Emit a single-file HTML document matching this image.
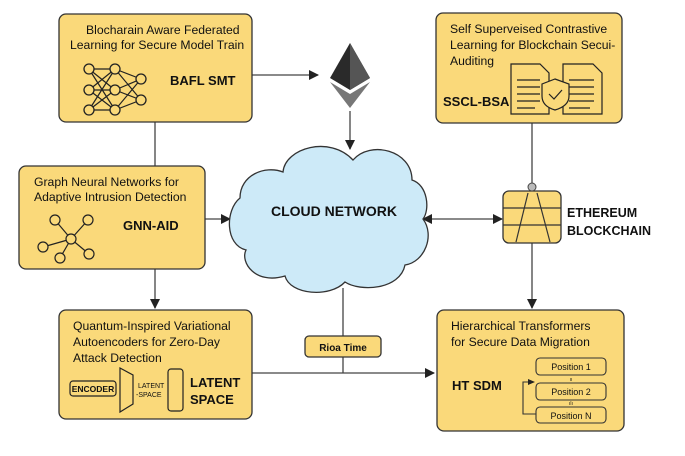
<!DOCTYPE html>
<html><head><meta charset="utf-8"><style>
body{margin:0;background:#fff}
svg{display:block}
text{font-family:"Liberation Sans",sans-serif;fill:#111}
.t{font-size:12.2px}
.b{font-weight:bold}
</style></head><body>
<svg width="685" height="456" viewBox="0 0 685 456" xmlns="http://www.w3.org/2000/svg">
<defs><marker id="a" markerWidth="10" markerHeight="10" refX="9" refY="5" orient="auto-start-reverse" markerUnits="userSpaceOnUse"><path d="M0,0 L10,5 L0,10 z" fill="#222"/></marker></defs>
<g stroke="#444" stroke-width="1.3" fill="none">
<line x1="155" y1="122" x2="155" y2="166"/>
<line x1="155" y1="269" x2="155" y2="308" marker-end="url(#a)"/>
<line x1="205" y1="219" x2="230" y2="219" marker-end="url(#a)"/>
<line x1="252" y1="75" x2="318" y2="75" marker-end="url(#a)"/>
<line x1="350" y1="111" x2="350" y2="149" marker-end="url(#a)"/>
<line x1="532" y1="123" x2="532" y2="188"/>
<line x1="532" y1="243" x2="532" y2="308" marker-end="url(#a)"/>
<line x1="423" y1="219" x2="502" y2="219" marker-start="url(#a)" marker-end="url(#a)"/>
<line x1="343" y1="288" x2="343" y2="373"/>
<line x1="252" y1="373" x2="434" y2="373" marker-end="url(#a)"/>
</g>
<g fill="#fad97a" stroke="#333" stroke-width="1.3">
<rect x="59" y="14" width="193" height="108" rx="7"/>
<rect x="19" y="166" width="186" height="103" rx="7"/>
<rect x="59" y="310" width="193" height="109" rx="7"/>
<rect x="436" y="13" width="186" height="110" rx="7"/>
<rect x="437" y="310" width="187" height="121" rx="7"/>
<rect x="305" y="336" width="76" height="21" rx="4"/>
<rect x="503" y="191" width="58" height="52" rx="6"/>
</g>
<path d="M283,172 C285,148 330,135 353,160 C370,140 412,150 412,180 C428,185 430,210 423,219 C435,235 425,262 405,265 C400,290 360,292 345,282 C330,298 290,295 285,276 C255,285 240,262 246,250 C225,245 225,210 240,198 C240,175 265,165 283,172 Z" fill="#cdeaf8" stroke="#333" stroke-width="1.3"/>
<text x="334" y="216" class="b" font-size="14" text-anchor="middle">CLOUD NETWORK</text>
<polygon points="350,43 330,78 350,90 370,78" fill="#2a2a2a"/>
<polygon points="350,43 350,90 370,78" fill="#555"/>
<polygon points="330,82 350,94 370,82 350,108" fill="#777"/>
<circle cx="532" cy="187" r="4" fill="#bbb" stroke="#444"/>
<g stroke="#333" stroke-width="1.2"><line x1="503" y1="208" x2="561" y2="208"/><line x1="503" y1="225" x2="561" y2="225"/><line x1="528" y1="193" x2="516" y2="242"/><line x1="537" y1="193" x2="550" y2="242"/></g>
<text x="567" y="217" class="b" font-size="12.5">ETHEREUM</text>
<text x="567" y="235" class="b" font-size="12.5">BLOCKCHAIN</text>
<text x="86" y="34" class="t">Blocharain Aware Federated</text>
<text x="70" y="49" class="t">Learning for Secure Model Train</text>
<text x="170" y="85" class="b" font-size="13">BAFL SMT</text>
<g stroke="#222" stroke-width="1.2" fill="none">
<path d="M89,69 L115,69 M89,69 L115,90 M89,69 L115,110 M89,90 L115,69 M89,90 L115,90 M89,90 L115,110 M89,110 L115,69 M89,110 L115,90 M89,110 L115,110 M115,69 L141,79 M115,69 L141,100 M115,90 L141,79 M115,90 L141,100 M115,110 L141,79 M115,110 L141,100"/>
</g>
<g fill="#fad97a" stroke="#222" stroke-width="1.3">
<circle cx="89" cy="69" r="5"/><circle cx="89" cy="90" r="5"/><circle cx="89" cy="110" r="5"/>
<circle cx="115" cy="69" r="5"/><circle cx="115" cy="90" r="5"/><circle cx="115" cy="110" r="5"/>
<circle cx="141" cy="79" r="5"/><circle cx="141" cy="100" r="5"/>
</g>
<text x="34" y="186" class="t">Graph Neural Networks for</text>
<text x="34" y="201" class="t">Adaptive Intrusion Detection</text>
<text x="123" y="230" class="b" font-size="13">GNN-AID</text>
<g stroke="#222" stroke-width="1.2" fill="#fad97a">
<path d="M71,239 L55,220 M71,239 L88,220 M71,239 L43,247 M71,239 L60,258 M71,239 L89,254" fill="none"/>
<circle cx="71" cy="239" r="5"/><circle cx="55" cy="220" r="5"/><circle cx="88" cy="220" r="5"/><circle cx="43" cy="247" r="5"/><circle cx="60" cy="258" r="5"/><circle cx="89" cy="254" r="5"/>
</g>
<text x="73" y="330" class="t">Quantum-Inspired Variational</text>
<text x="73" y="346" class="t">Autoencoders for Zero-Day</text>
<text x="73" y="362" class="t">Attack Detection</text>
<g stroke="#222" stroke-width="1.2" fill="none">
<rect x="70" y="381" width="46" height="15" rx="3"/>
<polygon points="120,368 133,375 133,404 120,412"/>
<rect x="168" y="369" width="15" height="42" rx="3"/>
</g>
<text x="93" y="392" font-size="8.5" text-anchor="middle" class="b">ENCODER</text>
<text x="138" y="388" font-size="7">LATENT</text>
<text x="136" y="397" font-size="7">-SPACE</text>
<text x="190" y="387" class="b" font-size="13">LATENT</text>
<text x="190" y="404" class="b" font-size="13">SPACE</text>
<text x="450" y="33" class="t">Self Superveised Contrastive</text>
<text x="450" y="49" class="t">Learning for Blockchain Secui-</text>
<text x="450" y="65" class="t">Auditing</text>
<text x="443" y="106" class="b" font-size="13">SSCL-BSA</text>
<g stroke="#222" stroke-width="1.2" fill="#fad97a">
<path d="M511,64 L540,64 L549,73 L549,114 L511,114 Z"/>
<path d="M563,64 L593,64 L602,73 L602,114 L563,114 Z"/>
<path d="M517,80 H540 M517,87 H540 M517,94 H540 M517,101 H540 M517,108 H535 M569,80 H594 M569,87 H594 M569,94 H594 M569,101 H594 M569,108 H590" fill="none"/>
<path d="M555,79 L569,84 L569,96 C569,104 562,108 555,110 C548,108 542,104 542,96 L542,84 Z"/>
<path d="M549,94 L554,99 L562,90" fill="none"/>
</g>
<text x="451" y="330" class="t">Hierarchical Transformers</text>
<text x="451" y="346" class="t">for Secure Data Migration</text>
<text x="452" y="390" class="b" font-size="13">HT SDM</text>
<g stroke="#333" stroke-width="1.1" fill="none">
<rect x="536" y="358" width="70" height="17" rx="4"/>
<rect x="536" y="383" width="70" height="17" rx="4"/>
<rect x="536" y="407" width="70" height="16" rx="4"/>
<path d="M536,414 L523,414 L523,382 L534,382"/>
</g>
<path d="M528,379 L535,382 L528,385 z" fill="#222"/>
<text x="571" y="370" font-size="9" text-anchor="middle">Position 1</text>
<text x="571" y="395" font-size="9" text-anchor="middle">Position 2</text>
<text x="571" y="419" font-size="9" text-anchor="middle">Position N</text>
<text x="571" y="381" font-size="5" text-anchor="middle">ıı</text>
<text x="571" y="405" font-size="5" text-anchor="middle">ılı</text>
<text x="343" y="351" class="b" font-size="10" text-anchor="middle">Rioa Time</text>
</svg>
</body></html>
